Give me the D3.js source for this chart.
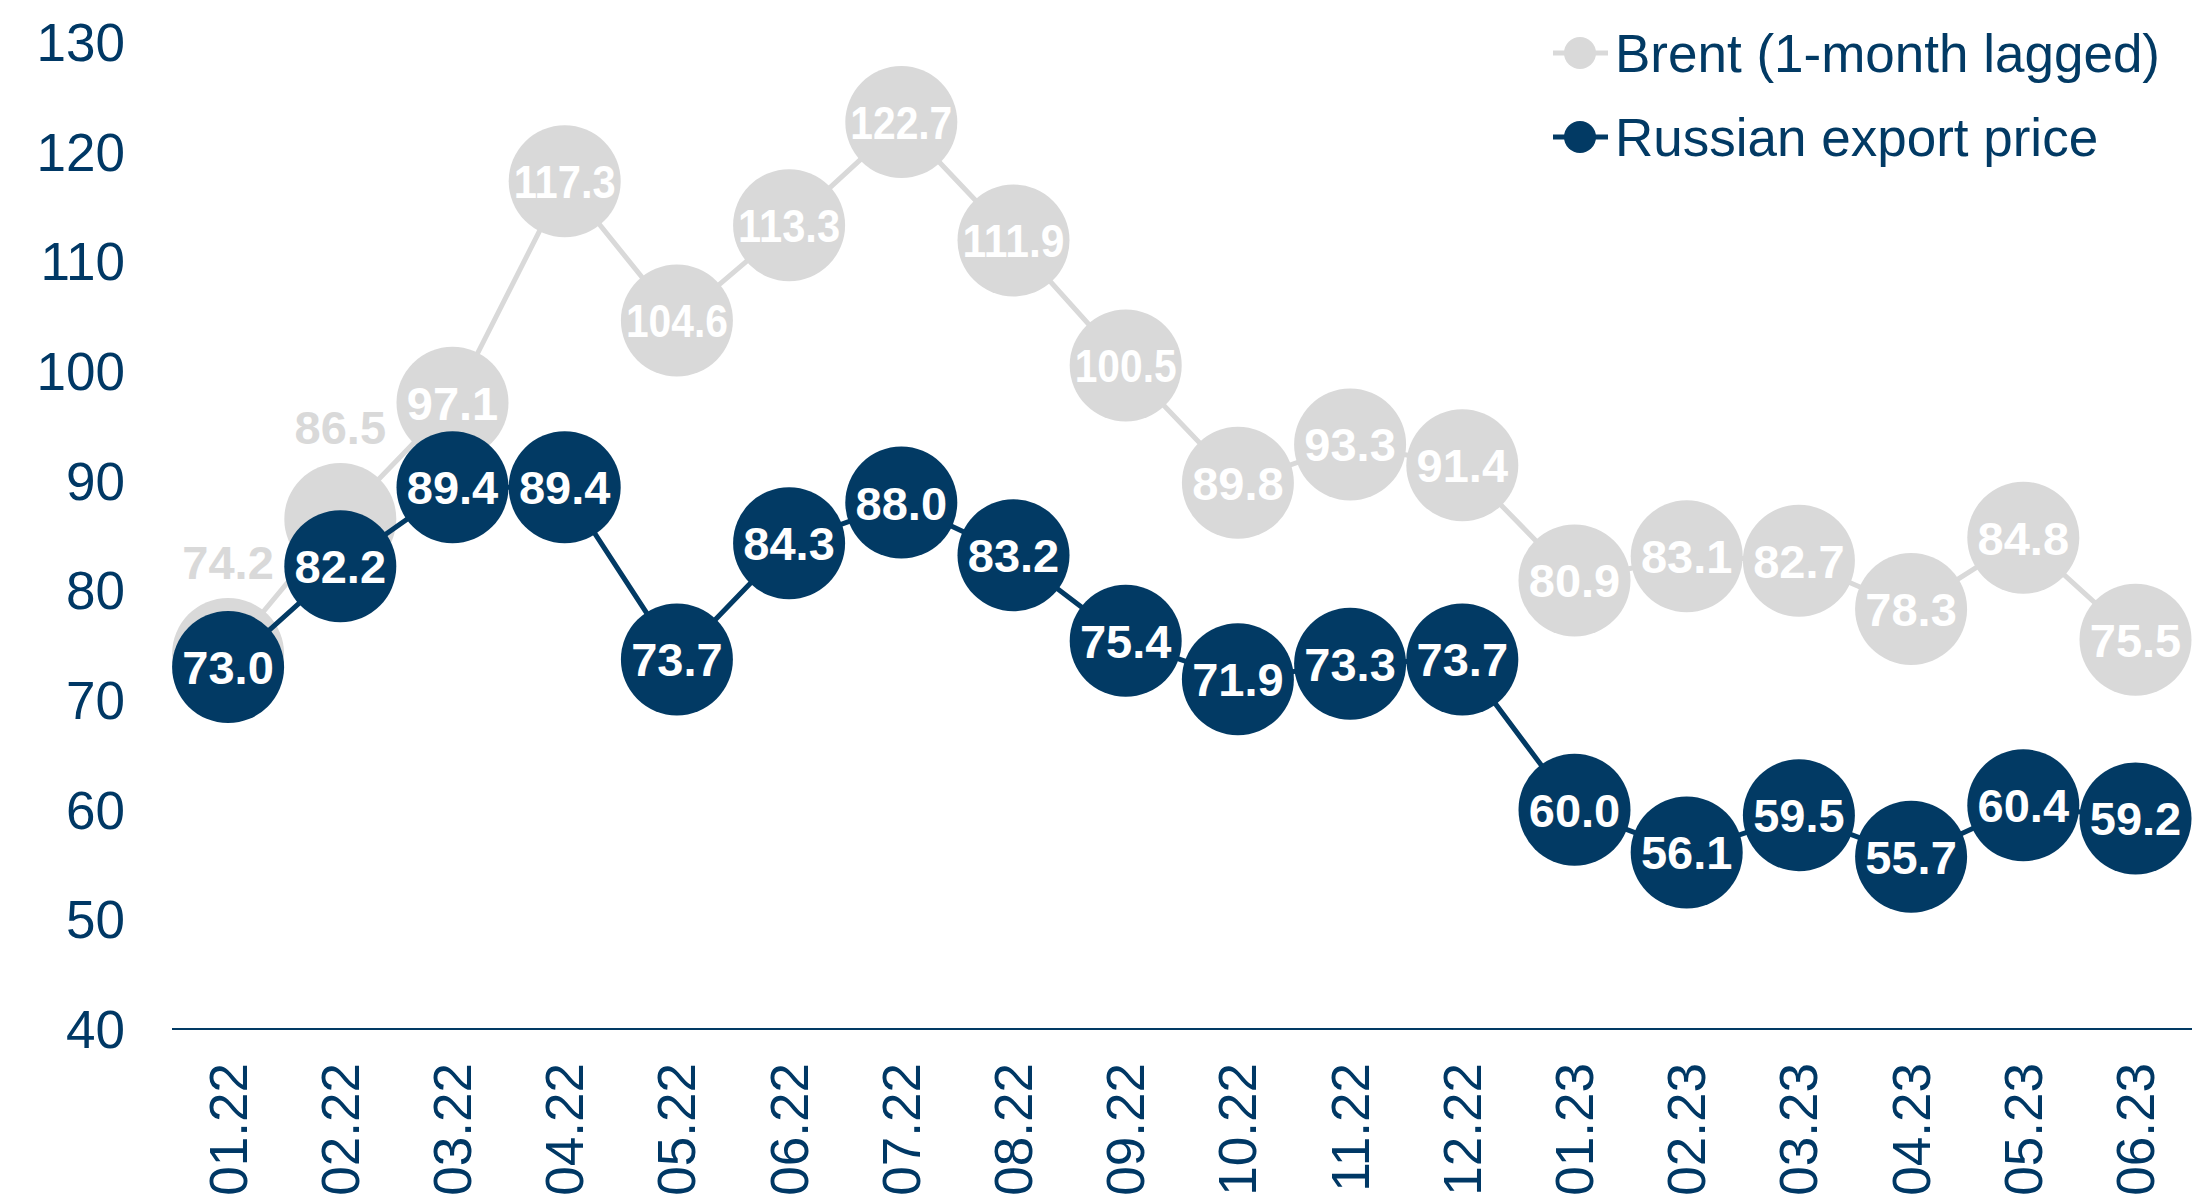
<!DOCTYPE html>
<html>
<head>
<meta charset="utf-8">
<script src="https://cdn.jsdelivr.net/npm/d3@7"></script>
<style>
	body { margin: 0; background: #fff; }
	svg { display: block; font-family: 'Liberation Sans', Arial, sans-serif; }
	.axis text { fill: #003865; font-size: 53px; }
	.axis path, .axis line { display: none; }
</style>
</head>
<body>
<div id="graphic"></div>
<script>
// data
const months = ['01.22', '02.22', '03.22', '04.22', '05.22', '06.22', '07.22', '08.22', '09.22',
	'10.22', '11.22', '12.22', '01.23', '02.23', '03.23', '04.23', '05.23', '06.23'];
const brent = [74.2, 86.5, 97.1, 117.3, 104.6, 113.3, 122.7, 111.9, 100.5,
	89.8, 93.3, 91.4, 80.9, 83.1, 82.7, 78.3, 84.8, 75.5];
const russian = [73.0, 82.2, 89.4, 89.4, 73.7, 84.3, 88.0, 83.2, 75.4,
	71.9, 73.3, 73.7, 60.0, 56.1, 59.5, 55.7, 60.4, 59.2];
const yTicks = [40, 50, 60, 70, 80, 90, 100, 110, 120, 130];
const seriesNames = ['Brent (1-month lagged)', 'Russian export price'];

const navy = '#023a64';
const grey = '#d9d9d9';

let width = 2192, height = 1202;
let margin = { top: 42, right: 0, bottom: 173, left: 172 };

let svg = d3.select('#graphic')
	.append('svg')
	.attr('width', width)
	.attr('height', height);

const x = d3.scaleBand()
	.domain(months)
	.range([margin.left, margin.left + 18 * 112.2])
	.padding(0);

const y = d3.scaleLinear()
	.domain([40, 130])
	.range([height - margin.bottom, margin.top]);

const cx = (d, i) => x(months[i]) + x.bandwidth() / 2;

// y axis labels only
svg.append('g')
	.attr('class', 'y axis')
	.attr('transform', 'translate(' + (margin.left - 47) + ',0)')
	.call(d3.axisLeft(y).tickValues(yTicks).tickSize(0).tickPadding(0))
	.selectAll('text')
	.attr('dy', '0.35em');

// x axis, rotated labels
svg.append('g')
	.attr('class', 'x axis')
	.attr('transform', 'translate(0,' + y(40) + ')')
	.call(d3.axisBottom(x).tickSize(0))
	.selectAll('text')
	.attr('transform', 'rotate(-90)')
	.attr('x', -34)
	.attr('y', 0)
	.attr('dy', '0.35em')
	.attr('text-anchor', 'end');

svg.append('line')
	.attr('x1', margin.left)
	.attr('x2', width)
	.attr('y1', y(40))
	.attr('y2', y(40))
	.attr('stroke', navy)
	.attr('stroke-width', 2);

const line = d3.line()
	.x(cx)
	.y((d) => y(d));

function drawSeries(data, colour) {
	svg.append('path')
		.datum(data)
		.attr('fill', 'none')
		.attr('stroke', colour)
		.attr('stroke-width', 5)
		.attr('d', line);

	svg.append('g')
		.selectAll('circle')
		.data(data)
		.join('circle')
		.attr('cx', cx)
		.attr('cy', (d) => y(d))
		.attr('r', 56)
		.attr('fill', colour);
}

// labels sit inside the circles, except the ones listed in 'above'
function drawLabels(data, above) {
	svg.append('g')
		.selectAll('text')
		.data(data)
		.join('text')
		.attr('x', cx)
		.attr('y', (d, i) => above.includes(i) ? y(d) - 92 : y(d))
		.attr('dy', '0.36em')
		.attr('text-anchor', 'middle')
		.attr('font-weight', 'bold')
		.attr('font-size', 47)
		.attr('fill', (d, i) => above.includes(i) ? grey : '#fff')
		.text((d) => d3.format('.1f')(d))
		.each(function () {
			// squeeze the long ones so they stay inside the circle
			if (this.getComputedTextLength() > 102) {
				d3.select(this)
					.attr('textLength', 102)
					.attr('lengthAdjust', 'spacingAndGlyphs');
			}
		});
}

drawSeries(brent, grey);
drawLabels(brent, [0, 1]);
drawSeries(russian, navy);
drawLabels(russian, []);

// legend
let legend = svg.append('g')
	.selectAll('g')
	.data(d3.zip(seriesNames, [grey, navy]))
	.join('g')
	.attr('transform', (d, i) => 'translate(1553,' + (53 + i * 84) + ')');

legend.append('line')
	.attr('x1', 0)
	.attr('x2', 55)
	.attr('stroke', (d) => d[1])
	.attr('stroke-width', 5);

legend.append('circle')
	.attr('cx', 27)
	.attr('r', 16)
	.attr('fill', (d) => d[1]);

legend.append('text')
	.attr('x', 62)
	.attr('dy', '0.35em')
	.attr('font-size', 53)
	.attr('fill', navy)
	.text((d) => d[0]);
</script>
</body>
</html>
